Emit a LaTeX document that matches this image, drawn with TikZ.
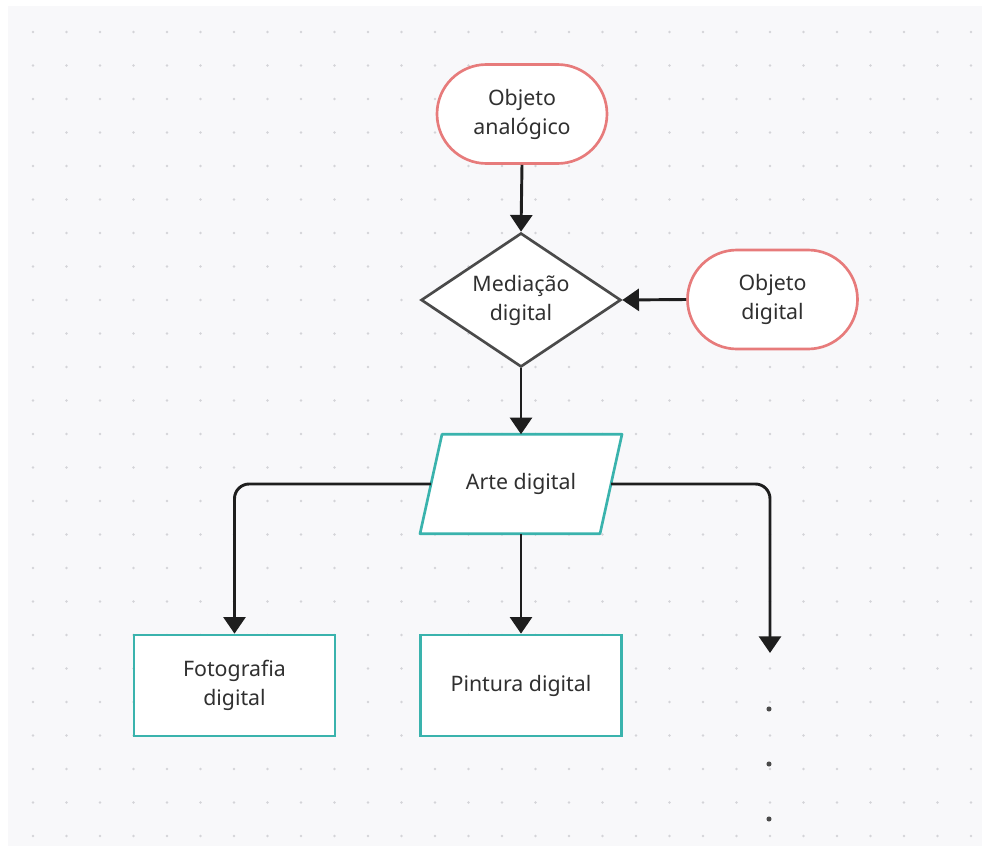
\documentclass[tikz,border=0pt]{standalone}
\usepackage{fontspec}
\setmainfont{Noto Sans}
\usetikzlibrary{arrows.meta,shapes.geometric,shapes.misc}
\definecolor{bgc}{HTML}{F8F8FA}
\definecolor{dotc}{HTML}{D4D4D8}
\definecolor{redc}{HTML}{E77B7B}
\definecolor{tealc}{HTML}{3AB3AD}
\definecolor{graybd}{HTML}{4A4A4A}
\definecolor{txt}{HTML}{303030}
\definecolor{arr}{HTML}{1E1E1E}
\pgfdeclarelayer{gridlayer}
\pgfdeclarelayer{shapelayer}
\pgfsetlayers{gridlayer,shapelayer,main}
\tikzset{
  lbl/.style={font=\fontsize{16pt}{21.75pt}\selectfont, text=txt, align=center, inner sep=0pt},
  term/.style={lbl, rounded rectangle, draw=redc, line width=2pt, fill=white, minimum width=127.5pt, minimum height=74.25pt},
  decis/.style={lbl, diamond, aspect=1.5, draw=graybd, line width=2pt, fill=white, minimum width=150pt, minimum height=100.5pt},
  procbox/.style={lbl, rectangle, draw=tealc, line width=2pt, fill=white, minimum width=150.75pt, minimum height=75.75pt},
  iobox/.style={lbl, rectangle, minimum width=134.6pt, minimum height=74.25pt},
  conn/.style={draw=arr, line width=2.2pt, rounded corners=11pt, -{Triangle[width=16.5pt,length=12.5pt]}}
}
\begin{document}
\begin{tikzpicture}[x=0.75pt,y=-0.75pt]
\useasboundingbox (0,0) rectangle (982,846);
\begin{pgfonlayer}{gridlayer}
\fill[white] (0,0) rectangle (982,846);
\fill[bgc] (8,6) rectangle (982,846);
\foreach \i in {0,...,28}{
  \foreach \j in {0,...,24}{
    \fill[dotc] ({33+33.5*\i},{32+33.5*\j}) circle (1.1pt);
  }
}
\end{pgfonlayer}
% nodes
\node[term] (oa) at (522,114) {Objeto\\analógico};
\node[decis] (med) at (521,300) {Mediação\\digital};
\node[term] (od) at (772.5,299.5) {Objeto\\digital};
\node[iobox] (arte) at (521,484) {Arte digital};
\node[procbox] (foto) at (234.5,685.5) {Fotografia\\digital};
\node[procbox] (pint) at (521,685.5) {Pintura digital};
\coordinate (rend) at (770,653);
% parallelogram outline behind the label
\begin{pgfonlayer}{shapelayer}
\filldraw[draw=tealc, fill=white, line width=2pt, line join=round]
  ([xshift=11*0.75pt]arte.north west) -- ([xshift=11*0.75pt]arte.north east) --
  ([xshift=-11*0.75pt]arte.south east) -- ([xshift=-11*0.75pt]arte.south west) -- cycle;
\end{pgfonlayer}
% connectors
\draw[conn] (oa.south) -- (med.north);
\draw[conn] (od.west) -- (med.east);
\draw[conn] (med.south) -- (arte.north);
\draw[conn] (arte.west) -| (foto.north);
\draw[conn] (arte.south) -- (pint.north);
\draw[conn] (arte.east) -| (rend);
% continuation dots
\foreach \yy in {709,764,819}{
  \fill[graybd] (769,\yy) circle (1.9pt);
}
\end{tikzpicture}
\end{document}
